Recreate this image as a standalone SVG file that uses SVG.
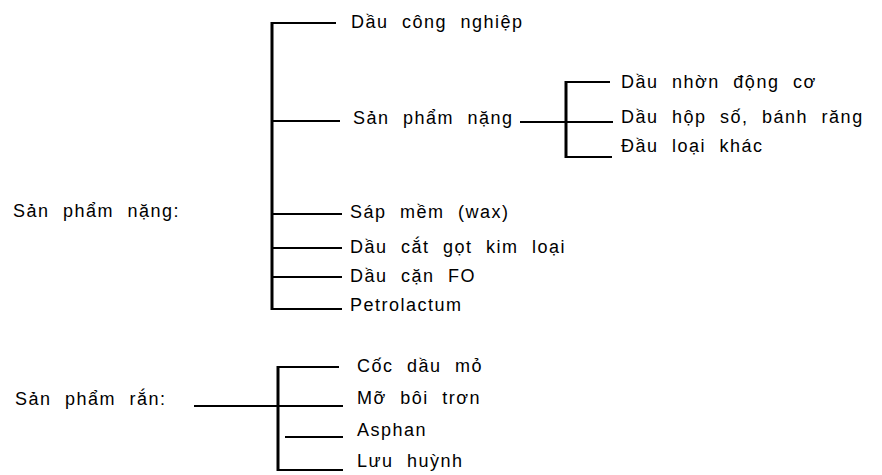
<svg xmlns="http://www.w3.org/2000/svg" width="882" height="475" viewBox="0 0 882 475">
<style>
text{font-family:"Liberation Sans",Arial,sans-serif;font-size:18px;fill:#000;letter-spacing:1.5px;word-spacing:7px}
.h{stroke:#000;stroke-width:2;fill:none}
.v{stroke:#000;stroke-width:3;fill:none}
</style>
<rect width="882" height="475" fill="#fff"/>
<g id="connectors">
<line class="v" x1="272" y1="22" x2="272" y2="310"/>
<line class="h" x1="272" y1="23" x2="336" y2="23"/>
<line class="h" x1="272" y1="121" x2="340" y2="121"/>
<line class="h" x1="272" y1="214" x2="342" y2="214"/>
<line class="h" x1="272" y1="248" x2="342" y2="248"/>
<line class="h" x1="272" y1="277" x2="342" y2="277"/>
<line class="h" x1="272" y1="309" x2="342" y2="309"/>
<line class="h" x1="520" y1="122" x2="613" y2="122"/>
<line class="v" x1="566" y1="81" x2="566" y2="158"/>
<line class="h" x1="566" y1="82" x2="610" y2="82"/>
<line class="h" x1="566" y1="157" x2="612" y2="157"/>
<line class="h" x1="194" y1="406" x2="278" y2="406"/>
<line class="v" x1="278" y1="366" x2="278" y2="471"/>
<line class="h" x1="278" y1="367" x2="339" y2="367"/>
<line class="h" x1="278" y1="406" x2="343" y2="406"/>
<line class="h" x1="285" y1="437" x2="343" y2="437"/>
<line class="h" x1="278" y1="470" x2="343" y2="470"/>
</g>
<g id="n-sp-nang"><text x="13" y="217">Sản phẩm nặng:</text></g>
<g id="n-dau-cong-nghiep"><text x="351" y="28">Dầu công nghiệp</text></g>
<g id="n-sp-nang-2"><text x="353" y="124">Sản phẩm nặng</text></g>
<g id="n-dau-nhon"><text x="621" y="88">Dầu nhờn động cơ</text></g>
<g id="n-dau-hop-so"><text x="621" y="123">Dầu hộp số, bánh răng</text></g>
<g id="n-dau-loai-khac"><text x="621" y="152">Đầu loại khác</text></g>
<g id="n-sap-mem"><text x="350" y="218">Sáp mềm (wax)</text></g>
<g id="n-dau-cat-got"><text x="350" y="253">Dầu cắt gọt kim loại</text></g>
<g id="n-dau-can"><text x="350" y="282">Dầu cặn FO</text></g>
<g id="n-petrolactum"><text x="350" y="311">Petrolactum</text></g>
<g id="n-sp-ran"><text x="15" y="405">Sản phẩm rắn:</text></g>
<g id="n-coc"><text x="357" y="372">Cốc dầu mỏ</text></g>
<g id="n-mo"><text x="357" y="404">Mỡ bôi trơn</text></g>
<g id="n-asphan"><text x="357" y="436">Asphan</text></g>
<g id="n-luu-huynh"><text x="357" y="467">Lưu huỳnh</text></g>
</svg>
